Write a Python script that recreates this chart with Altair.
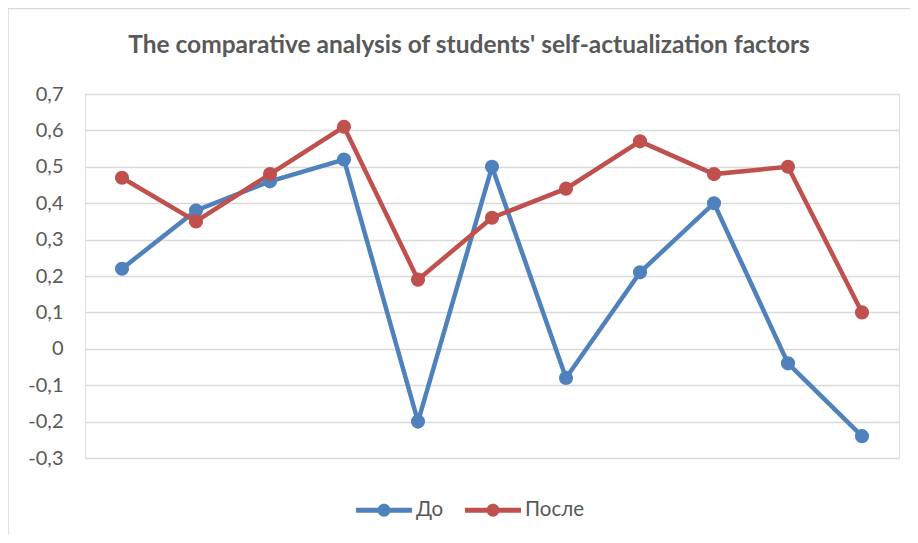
import altair as alt
import pandas as pd

factors = list(range(1, 12))
before = [0.22, 0.38, 0.46, 0.52, -0.20, 0.50, -0.08, 0.21, 0.40, -0.04, -0.24]
after = [0.47, 0.35, 0.48, 0.61, 0.19, 0.36, 0.44, 0.57, 0.48, 0.50, 0.10]
series_names = ["До", "После"]
series_colors = ["#4F81BD", "#C0504D"]
y_ticks = [-0.3, -0.2, -0.1, 0, 0.1, 0.2, 0.3, 0.4, 0.5, 0.6, 0.7]
title_text = "The comparative analysis of students' self-actualization factors"

df = pd.DataFrame({
    "factor": factors * 2,
    "value": before + after,
    "series": [series_names[0]] * len(factors) + [series_names[1]] * len(factors),
})

FONT = "Lato"
TEXT = "#595959"

x_enc = alt.X("factor:O", scale=alt.Scale(type="point", padding=0.5), axis=None)
y_enc = alt.Y(
    "value:Q",
    scale=alt.Scale(domain=[-0.3, 0.7], nice=False, zero=False),
    axis=alt.Axis(
        values=y_ticks,
        title=None,
        domain=False,
        ticks=False,
        grid=True,
        gridColor="#D9D9D9",
        gridWidth=1.3,
        labelFont=FONT,
        labelFontSize=20,
        labelColor=TEXT,
        labelPadding=22,
        labelExpr="datum.value == 0 ? '0' : replace(replace(format(datum.value, '.1f'), '.', ','), '\u2212', '-')",
    ),
)
color_scale = alt.Scale(domain=series_names, range=series_colors)

legend_path = (
    "M-1,-0.085L1,-0.085L1,0.085L-1,0.085Z"
    "M-0.23,0A0.23,0.23 0 1,1 0.23,0A0.23,0.23 0 1,1 -0.23,0Z"
)
legend = alt.Legend(
    title=None,
    orient="none",
    direction="horizontal",
    legendX=271,
    legendY=388,
    symbolType=legend_path,
    symbolSize=3136,
    symbolStrokeWidth=0,
    symbolOpacity=1,
    labelFont=FONT,
    labelFontSize=20.5,
    labelColor=TEXT,
    labelOffset=4,
    columnPadding=21,
    padding=0,
)
color_enc = alt.Color("series:N", scale=color_scale, sort=series_names, legend=legend)

lines = alt.Chart(df).mark_line(strokeWidth=4.5).encode(
    x=x_enc, y=y_enc, color=color_enc
)

points = alt.Chart(df).mark_point(filled=True, size=200, opacity=1).encode(
    x=x_enc, y=y_enc, color=color_enc
)

frame = alt.Chart(pd.DataFrame({"a": [0]})).mark_rect(
    fill=None, stroke="#D9D9D9", strokeWidth=1.5
).encode(
    x=alt.value(-77), x2=alt.value(1000), y=alt.value(-85.5), y2=alt.value(1000)
)

title = alt.Chart(pd.DataFrame({"t": [title_text]})).mark_text(
    font=FONT,
    fontSize=24.5,
    fontWeight="bold",
    color=TEXT,
    align="center",
    baseline="alphabetic",
).encode(
    text="t:N", x=alt.value(384), y=alt.value(-41)
)

chart = alt.layer(frame, title, lines, points).properties(
    width=814,
    height=364,
    padding={"left": 77, "top": 86, "right": 11, "bottom": 77},
    autosize=alt.AutoSizeParams(type="none"),
).configure_view(stroke=None).configure(background="white")

chart.save("out.html", embed_options={"renderer": "svg", "actions": False})
